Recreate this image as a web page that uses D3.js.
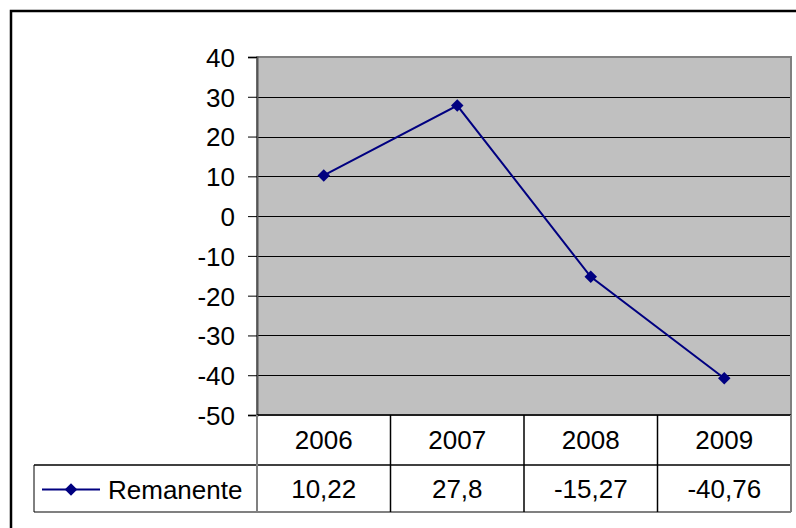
<!DOCTYPE html>
<html><head><meta charset="utf-8">
<script src="https://cdn.jsdelivr.net/npm/d3@7"></script>
<style>body{margin:0;background:#fff}svg{display:block}text{font-family:"Liberation Sans",Arial,sans-serif}</style>
</head><body>
<svg id="c" width="796" height="528"></svg>
<script>
const categories = ["2006","2007","2008","2009"];
const seriesName = "Remanente";
const values = [10.22, 27.8, -15.27, -40.76];
const valueLabels = ["10,22","27,8","-15,27","-40,76"];
const yTicks = [40,30,20,10,0,-10,-20,-30,-40,-50];

const svg = d3.select("#c");
const L = 257, R = 791, T = 57, B = 415;
const row1B = 465, row2B = 512, legL = 34;
const FS = 26;

// outer border
svg.append("rect").attr("x",11).attr("y",11).attr("width",800).attr("height",540)
  .attr("fill","none").attr("stroke","#000").attr("stroke-width",2.5);

const x = d3.scaleBand().domain(categories).range([L,R]);
const y = d3.scaleLinear().domain([-50,40]).range([B,T]);

svg.append("rect").attr("x",L).attr("y",T).attr("width",R-L).attr("height",B-T)
  .attr("fill","#c0c0c0");

// gridlines
svg.append("g").selectAll("line").data(yTicks.filter(d=>d!==40 && d!==-50)).join("line")
  .attr("x1",L).attr("x2",R).attr("y1",d=>Math.round(y(d))+0.5).attr("y2",d=>Math.round(y(d))+0.5)
  .attr("stroke","#000").attr("stroke-width",1);

svg.append("rect").attr("x",L).attr("y",T).attr("width",R-L).attr("height",B-T)
  .attr("fill","none").attr("stroke","#808080").attr("stroke-width",2);

// y axis
const ya = svg.append("g").attr("transform",`translate(${L},0)`)
  .call(d3.axisLeft(y).tickValues(yTicks).tickSize(9).tickPadding(13).tickFormat(d=>String(d)));
ya.attr("font-size",FS).attr("font-family",'"Liberation Sans",Arial,sans-serif');
ya.select(".domain").attr("stroke","#555").attr("stroke-width",2);
ya.selectAll(".tick line").attr("stroke","#000");
ya.selectAll(".tick text").attr("fill","#000").attr("dy","0.36em");

// table
const tg = svg.append("g").attr("font-size",FS);
tg.append("line").attr("x1",L).attr("x2",R).attr("y1",B).attr("y2",B).attr("stroke","#000").attr("stroke-width",1.5);
tg.append("line").attr("x1",legL).attr("x2",R).attr("y1",row1B).attr("y2",row1B).attr("stroke","#000").attr("stroke-width",1.5);
tg.append("line").attr("x1",legL).attr("x2",R).attr("y1",row2B).attr("y2",row2B).attr("stroke","#808080").attr("stroke-width",2);
tg.append("line").attr("x1",legL).attr("x2",legL).attr("y1",row1B).attr("y2",row2B).attr("stroke","#000").attr("stroke-width",1);
tg.append("line").attr("x1",L).attr("x2",L).attr("y1",B).attr("y2",row2B).attr("stroke","#808080").attr("stroke-width",2);
tg.append("line").attr("x1",R).attr("x2",R).attr("y1",B).attr("y2",row2B).attr("stroke","#808080").attr("stroke-width",2);
tg.selectAll("line.sep").data(categories.slice(1)).join("line").attr("class","sep")
  .attr("x1",d=>x(d)).attr("x2",d=>x(d)).attr("y1",B).attr("y2",row2B).attr("stroke","#000").attr("stroke-width",1.5);

tg.selectAll("text.cat").data(categories).join("text").attr("class","cat")
  .attr("x",d=>x(d)+x.bandwidth()/2).attr("y",(B+row1B)/2+9).attr("text-anchor","middle")
  .text(d=>d);
tg.selectAll("text.val").data(valueLabels).join("text").attr("class","val")
  .attr("x",(d,i)=>x(categories[i])+x.bandwidth()/2).attr("y",(row1B+row2B)/2+9).attr("text-anchor","middle")
  .text(d=>d);

// legend
const ly = (row1B+row2B)/2 + 1;
const dia = d3.symbol().type(d3.symbolDiamond2).size(100);
tg.append("line").attr("x1",42).attr("x2",100).attr("y1",ly).attr("y2",ly).attr("stroke","#000080").attr("stroke-width",2);
tg.append("path").attr("d",dia()).attr("transform",`translate(71,${ly})`).attr("fill","#000080");
tg.append("text").attr("x",108).attr("y",ly+9).text(seriesName);

// line
const pts = categories.map((c,i)=>[x(c)+x.bandwidth()/2, y(values[i])]);
svg.append("path").attr("d",d3.line()(pts)).attr("fill","none").attr("stroke","#000080").attr("stroke-width",2);
svg.selectAll("path.m").data(pts).join("path").attr("class","m")
  .attr("d",dia()).attr("transform",d=>`translate(${d[0]},${d[1]})`).attr("fill","#000080");
</script>
</body></html>
